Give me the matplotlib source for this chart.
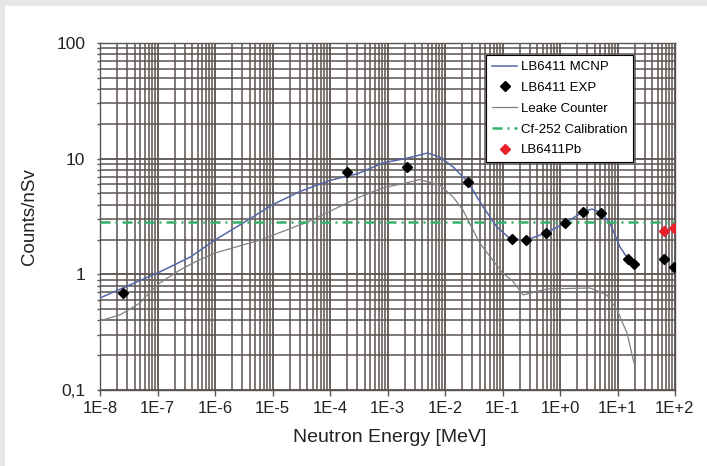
import matplotlib.pyplot as plt
from matplotlib.patches import Rectangle
from matplotlib.ticker import LogLocator, FixedLocator, NullFormatter

plt.rcParams['font.family'] = ['Liberation Sans', 'DejaVu Sans']

# LB6411 MCNP response
mcnp_e = [1e-8, 1.1e-7, 3.7e-7, 1e-6, 3.3e-6, 1e-5, 3e-5, 1e-4, 3e-4, 8.4e-4, 2.2e-3,
          5e-3, 8.2e-3, 1.38e-2, 2.5e-2, 4.6e-2, 8e-2, 0.125, 0.2, 0.26, 0.57,
          1.22, 2.5, 3.6, 5.2, 7.4, 11, 15.2, 19.4]
mcnp_c = [0.625, 1.05, 1.41, 1.98, 2.84, 4.0, 5.2, 6.5, 7.4, 9.2, 10.1,
          11.2, 10.3, 8.5, 6.3, 3.83, 2.57, 2.1, 1.98, 1.98, 2.28,
          2.78, 3.46, 3.67, 3.4, 2.78, 1.73, 1.36, 1.2]

# LB6411 experimental points
exp_e = [2.53e-8, 2e-4, 2.2e-3, 2.5e-2, 0.146, 0.26, 0.57, 1.22, 2.5, 5.2,
         15.2, 19.4, 64, 96]
exp_c = [0.69, 7.7, 8.5, 6.3, 2.02, 1.98, 2.28, 2.78, 3.46, 3.4,
         1.36, 1.24, 1.36, 1.16]

# Leake counter response
leake_e = [1e-8, 2.23e-8, 4.97e-8, 7.4e-8, 1.1e-7, 2.46e-7, 4.5e-7, 1e-6, 6.1e-6,
           1e-5, 4.1e-5, 3.3e-4, 8.4e-4, 2.2e-3, 3.6e-3, 8.2e-3, 1.38e-2, 2.05e-2,
           3.07e-2, 4.06e-2, 0.1, 0.152, 0.228, 0.594, 3.33, 6.56, 9.8, 14.6, 19.4]
leake_c = [0.397, 0.446, 0.566, 0.705, 0.843, 1.09, 1.28, 1.53, 1.98,
           2.17, 2.84, 4.67, 5.6, 6.2, 6.6, 5.9, 4.67, 3.6,
           2.42, 1.85, 1.03, 0.87, 0.664, 0.748, 0.762, 0.664, 0.492, 0.312, 0.171]

# Cf-252 calibration factor
cf_value = 2.84

# LB6411 with Pb shell
pb_e = [64, 96]
pb_c = [2.37, 2.52]

x_ticks = [10.0 ** k for k in range(-8, 3)]
x_labels = ['1E-8', '1E-7', '1E-6', '1E-5', '1E-4', '1E-3', '1E-2', '1E-1',
            '1E+0', '1E+1', '1E+2']
y_ticks = [0.1, 1, 10, 100]
y_labels = ['0,1', '1', '10', '100']

fig = plt.figure(figsize=(7.07, 4.66), dpi=100)
fig.patch.set_facecolor('#e6e7e9')
fig.patches.append(Rectangle((5 / 707, 0), 1, 460 / 466, transform=fig.transFigure,
                             facecolor='white', edgecolor='none', zorder=-10))

ax = fig.add_axes([100 / 707, 1 - 390 / 466, 575 / 707, 347 / 466])
ax.set_xscale('log')
ax.set_yscale('log')
ax.set_xlim(1e-8, 100)
ax.set_ylim(0.1, 100)

gc = '#5a5450'
ax.set_axisbelow(True)
ax.xaxis.set_minor_locator(LogLocator(base=10, subs=range(2, 10), numticks=20))
ax.yaxis.set_minor_locator(LogLocator(base=10, subs=range(2, 10), numticks=20))
ax.xaxis.set_minor_formatter(NullFormatter())
ax.yaxis.set_minor_formatter(NullFormatter())
ax.grid(True, which='major', color=gc, lw=1.3)
ax.grid(True, which='minor', color=gc, lw=1.1)

ax.xaxis.set_major_locator(FixedLocator(x_ticks))
ax.set_xticklabels(x_labels)
ax.yaxis.set_major_locator(FixedLocator(y_ticks))
ax.set_yticklabels(y_labels)
ax.tick_params(axis='x', which='major', direction='out', length=4, width=1,
               color=gc, labelsize=12, pad=4, labelcolor='#222222')
ax.tick_params(axis='x', which='minor', length=0)
ax.tick_params(axis='y', which='major', direction='out', length=2.5, width=1,
               color=gc, labelsize=12.5, pad=8, labelcolor='#222222')
ax.tick_params(axis='y', which='minor', direction='out', length=2, width=1, color=gc)
for s in ax.spines.values():
    s.set_color(gc)
    s.set_linewidth(1)

ax.plot(mcnp_e, mcnp_c, color='#5566a8', lw=1.1, label='LB6411 MCNP', zorder=3)
ax.plot(exp_e, exp_c, ls='none', marker='D', ms=5, color='black',
        label='LB6411 EXP', zorder=5)
ax.plot(leake_e, leake_c, color='#808080', lw=0.9, label='Leake Counter', zorder=3)
ax.axhline(cf_value, color='#35b06a', lw=1.8, dashes=(4, 2, 0.8, 2),
           label='Cf-252 Calibration', zorder=4)
ax.plot(pb_e, pb_c, ls='none', marker='D', ms=5, color='#e8202a',
        label='LB6411Pb', zorder=5)

leg = ax.legend(loc='upper right', bbox_to_anchor=((633 - 100) / 575, 1 - 12 / 347),
                borderaxespad=0, fontsize=9.5, frameon=True, fancybox=False,
                framealpha=1, edgecolor='black', labelspacing=0.65,
                handlelength=1.9, handletextpad=0.25, borderpad=0.45)
leg.get_frame().set_linewidth(0.8)

ax.set_xlabel('Neutron Energy [MeV]', fontsize=14, color='#222222')
ax.set_ylabel('Counts/nSv', fontsize=13.5, color='#222222')
ax.xaxis.set_label_coords(0.504, -0.112)
ax.yaxis.set_label_coords(-0.108, 0.5)

fig.savefig('out.png', dpi=100, facecolor=fig.get_facecolor())
